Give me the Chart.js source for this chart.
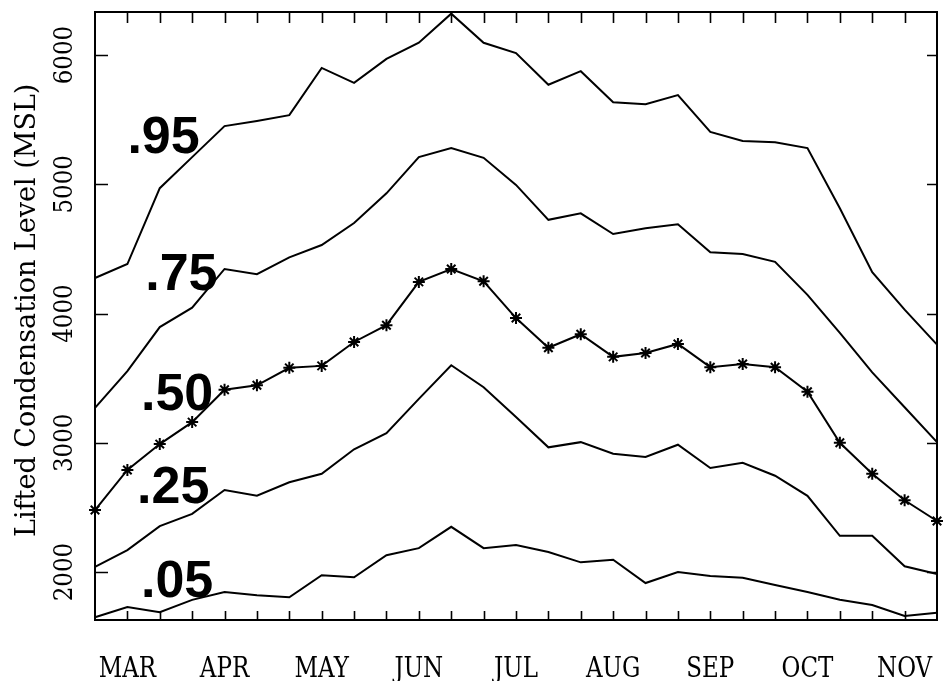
<!DOCTYPE html>
<html>
<head>
<meta charset="utf-8">
<script src="https://cdn.jsdelivr.net/npm/chart.js@4.4.0/dist/chart.umd.min.js"></script>
<style>
html,body{margin:0;padding:0;background:#fff;}
canvas{display:block;}
</style>
</head>
<body>
<canvas id="c" width="945" height="681"></canvas>
<script>
// 27 dekads, March through November
const categories = ['Mar-1','Mar-2','Mar-3','Apr-1','Apr-2','Apr-3','May-1','May-2','May-3','Jun-1','Jun-2','Jun-3','Jul-1','Jul-2','Jul-3','Aug-1','Aug-2','Aug-3','Sep-1','Sep-2','Sep-3','Oct-1','Oct-2','Oct-3','Nov-1','Nov-2','Nov-3'];
const monthLabels = ['MAR','APR','MAY','JUN','JUL','AUG','SEP','OCT','NOV'];
const yTicks = [2000, 3000, 4000, 5000, 6000];
const yTitle = 'Lifted Condensation Level (MSL)';

const p95 = [4275,4383,4970,5210,5450,5490,5535,5900,5785,5970,6095,6320,6095,6015,5770,5875,5635,5620,5690,5405,5335,5325,5280,4815,4320,4030,3760];
const p75 = [3270,3555,3895,4045,4345,4305,4435,4530,4700,4930,5210,5280,5205,4995,4725,4775,4615,4660,4690,4475,4460,4400,4145,3850,3545,3275,3005];
const p50 = [2480,2790,2990,3160,3410,3445,3580,3595,3780,3910,4245,4345,4250,3965,3735,3840,3665,3695,3765,3585,3610,3585,3395,3000,2760,2555,2395];
const p25 = [2040,2170,2355,2450,2635,2590,2695,2760,2950,3075,3340,3600,3430,3200,2965,3005,2915,2890,2985,2805,2845,2745,2590,2280,2280,2045,1985];
const p05 = [1650,1730,1690,1785,1845,1820,1805,1975,1960,2130,2185,2350,2185,2210,2155,2075,2095,1915,2000,1970,1955,1900,1845,1785,1745,1660,1685];

// series label text and anchor (category index, value) of its left baseline
const seriesLabels = ['.95','.75','.50','.25','.05'];
const labelIdx = [1.00, 1.55, 1.42, 1.30, 1.42];
const labelVal = [5242, 4182, 3253, 2534, 1807];

const yMin = 1629, yMax = 6333;

const decor = {
  id: 'decor',
  beforeDraw(chart) {
    const c = chart.ctx;
    c.save();
    c.fillStyle = '#fff';
    c.fillRect(0, 0, chart.width, chart.height);
    c.restore();
  },
  afterDraw(chart) {
    const c = chart.ctx;
    const a = chart.chartArea;
    const xs = chart.scales.x, ys = chart.scales.y;
    c.save();
    c.strokeStyle = '#000';
    c.fillStyle = '#000';
    // frame
    c.lineWidth = 2;
    c.strokeRect(a.left, a.top, a.right - a.left, a.bottom - a.top);
    // x ticks (inward), bottom and top
    c.lineWidth = 1.6;
    for (let i = 1; i < categories.length - 1; i++) {
      const px = Math.round(xs.getPixelForValue(i)) + 0.5;
      c.beginPath();
      c.moveTo(px, a.bottom); c.lineTo(px, a.bottom - 9);
      c.moveTo(px, a.top); c.lineTo(px, a.top + 11);
      c.stroke();
    }
    // y ticks (inward), left and right
    yTicks.forEach(v => {
      const py = Math.round(ys.getPixelForValue(v)) + 0.5;
      c.beginPath();
      c.moveTo(a.left, py); c.lineTo(a.left + 13, py);
      c.moveTo(a.right, py); c.lineTo(a.right - 10, py);
      c.stroke();
    });
    // x month labels (slightly tall glyphs)
    c.font = '23px "DejaVu Serif"';
    c.textAlign = 'center';
    c.textBaseline = 'alphabetic';
    monthLabels.forEach((m, k) => {
      const px = xs.getPixelForValue(3 * k + 1);
      c.save();
      c.translate(px, a.bottom + 57);
      c.scale(1, 1.18);
      c.fillText(m, 0, 0);
      c.restore();
    });
    // y tick labels (rotated)
    yTicks.forEach(v => {
      const py = ys.getPixelForValue(v);
      c.save();
      c.translate(a.left - 23, py);
      c.rotate(-Math.PI / 2);
      c.scale(1, 1.1);
      c.textAlign = 'center';
      c.textBaseline = 'alphabetic';
      c.fillText(String(v), 0, 0);
      c.restore();
    });
    // y title
    c.save();
    c.font = '27px "DejaVu Serif"';
    c.translate(35, (ys.getPixelForValue(4000) + ys.getPixelForValue(4050)) / 2);
    c.rotate(-Math.PI / 2);
    c.textAlign = 'center';
    c.textBaseline = 'alphabetic';
    c.fillText(yTitle, 0, 0);
    c.restore();
    // series labels
    c.font = 'bold 52px "Liberation Sans"';
    c.textAlign = 'left';
    c.textBaseline = 'alphabetic';
    seriesLabels.forEach((t, k) => {
      c.fillText(t, xs.getPixelForValue(labelIdx[k]), ys.getPixelForValue(labelVal[k]));
    });
    c.restore();
  }
};

const mk = (d, extra) => Object.assign({
  data: d, borderColor: '#000', borderWidth: 2, pointRadius: 0, tension: 0, fill: false
}, extra || {});

new Chart(document.getElementById('c').getContext('2d'), {
  type: 'line',
  data: {
    labels: categories,
    datasets: [
      mk(p95), mk(p75),
      mk(p50, {pointRadius: 6, pointStyle: 'star', pointBorderColor: '#000', pointBorderWidth: 2, pointBackgroundColor: '#000'}),
      mk(p25), mk(p05)
    ]
  },
  options: {
    responsive: false,
    animation: false,
    devicePixelRatio: 1,
    layout: {padding: {left: 95, right: 3, top: 12, bottom: 61}},
    plugins: {legend: {display: false}, tooltip: {enabled: false}, title: {display: false}},
    scales: {
      x: {type: 'category', display: false, offset: false},
      y: {type: 'linear', display: false, min: yMin, max: yMax}
    }
  },
  plugins: [decor]
});
</script>
</body>
</html>
